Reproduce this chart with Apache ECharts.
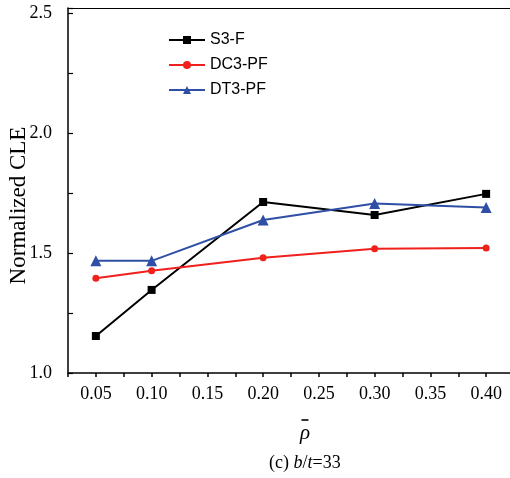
<!DOCTYPE html>
<html><head><meta charset="utf-8">
<script src="https://cdn.jsdelivr.net/npm/echarts@6/dist/echarts.min.js"></script>
<style>html,body{margin:0;padding:0;background:#fff}#c{width:510px;height:478px}</style>
</head><body><div id="c"></div>
<script>
const rho = [0.05, 0.10, 0.20, 0.30, 0.40];
const s3f = [1.154, 1.346, 1.712, 1.658, 1.746];
const dc3pf = [1.395, 1.426, 1.480, 1.517, 1.521];
const dt3pf = [1.467, 1.467, 1.637, 1.706, 1.689];
const xTickLabels = ['0.05', '0.10', '0.15', '0.20', '0.25', '0.30', '0.35', '0.40'];
const yTickLabels = ['1.0', '1.5', '2.0', '2.5'];

const serif = '"Liberation Serif","Times New Roman",serif';
const chart = echarts.init(document.getElementById('c'));
const pair = a => a.map((v, i) => [rho[i], v]);
const X0 = 0.025, X1 = 0.425, GL = 68, GR = -4, W = 510;
const pxPerUnit = (W - GR - GL) / (X1 - X0);
const GL2 = GL + (0.05 - X0) * pxPerUnit;
const xLabelFor = v => xTickLabels.find(t => Math.abs(parseFloat(t) - v) < 1e-6) || '';
const yLabelFor = v => yTickLabels.find(t => Math.abs(parseFloat(t) - v) < 1e-6) || '';
chart.setOption({
  animation: false,
  grid: [
    {left: GL, top: 8, right: GR, bottom: 105, containLabel: false, outerBoundsMode: 'none'},
    {left: GL2, top: 8, right: GR, bottom: 105, containLabel: false, outerBoundsMode: 'none'}
  ],
  legend: {
    left: 163, top: 27, orient: 'vertical', itemGap: 9, itemWidth: 36, itemHeight: 10,
    textStyle: {fontFamily: '"Liberation Sans",Arial,sans-serif', fontSize: 16, color: '#000'},
    data: ['S3-F', 'DC3-PF', 'DT3-PF']
  },
  xAxis: [{
    gridIndex: 0, type: 'value', min: X0, max: X1, interval: 0.025, position: 'bottom',
    axisLine: {show: true, onZero: false, lineStyle: {color: '#000', width: 1.5}},
    axisTick: {show: true, inside: false, length: 4, lineStyle: {color: '#000', width: 1.5}},
    axisLabel: {show: false}, splitLine: {show: false}
  }, {
    gridIndex: 0, type: 'value', min: X0, max: X1, position: 'top',
    axisLine: {show: true, onZero: false, lineStyle: {color: '#000', width: 1.2}},
    axisTick: {show: false}, axisLabel: {show: false}, splitLine: {show: false}
  }, {
    gridIndex: 1, type: 'value', min: 0.05, max: X1, interval: 0.05, position: 'bottom',
    axisLine: {show: false, onZero: false},
    axisTick: {show: false},
    axisLabel: {fontFamily: serif, fontSize: 18, color: '#000', margin: 12, formatter: xLabelFor,
      showMaxLabel: false},
    splitLine: {show: false},
    name: '{bar| }\n{rho|\u03C1}\n{cap|(c) }{it|b}{cap|/}{it|t}{cap|=33}',
    nameLocation: 'middle', nameGap: 44, nameMoveOverlap: false,
    nameTextStyle: {rich: {
      bar: {fontSize: 2, width: 7, height: 1.6, lineHeight: 6, backgroundColor: '#000'},
      rho: {fontFamily: serif, fontStyle: 'italic', fontSize: 21, color: '#000', lineHeight: 20},
      cap: {fontFamily: serif, fontSize: 18, color: '#000', lineHeight: 40},
      it: {fontFamily: serif, fontStyle: 'italic', fontSize: 18, color: '#000', lineHeight: 40}
    }}
  }],
  yAxis: [{
    gridIndex: 0, type: 'value', min: 1.0, max: 2.52, interval: 0.25,
    axisLine: {show: true, onZero: false, lineStyle: {color: '#000', width: 1.5}},
    axisTick: {show: true, inside: true, length: 5, lineStyle: {color: '#000', width: 1.2}},
    axisLabel: {fontFamily: serif, fontSize: 18, color: '#000', margin: 16, formatter: yLabelFor},
    splitLine: {show: false},
    name: 'Normalized CLE', nameLocation: 'middle', nameGap: 38, nameRotate: 90, nameMoveOverlap: false,
    nameTextStyle: {fontFamily: serif, fontSize: 23, color: '#000', padding: [0, 30, 0, 0]}
  }, {
    gridIndex: 1, type: 'value', min: 1.0, max: 2.52, show: false
  }],
  series: [
    {name: 'S3-F', type: 'line', data: pair(s3f), symbol: 'rect', symbolSize: 8,
      itemStyle: {color: '#000'}, lineStyle: {color: '#000', width: 2}},
    {name: 'DC3-PF', type: 'line', data: pair(dc3pf), symbol: 'circle', symbolSize: 7,
      itemStyle: {color: '#f0201c'}, lineStyle: {color: '#f0201c', width: 2}},
    {name: 'DT3-PF', type: 'line', data: pair(dt3pf), symbol: 'triangle', symbolSize: 11,
      itemStyle: {color: '#2f4ea5'}, lineStyle: {color: '#2f4ea5', width: 2}}
  ]
});
</script></body></html>
